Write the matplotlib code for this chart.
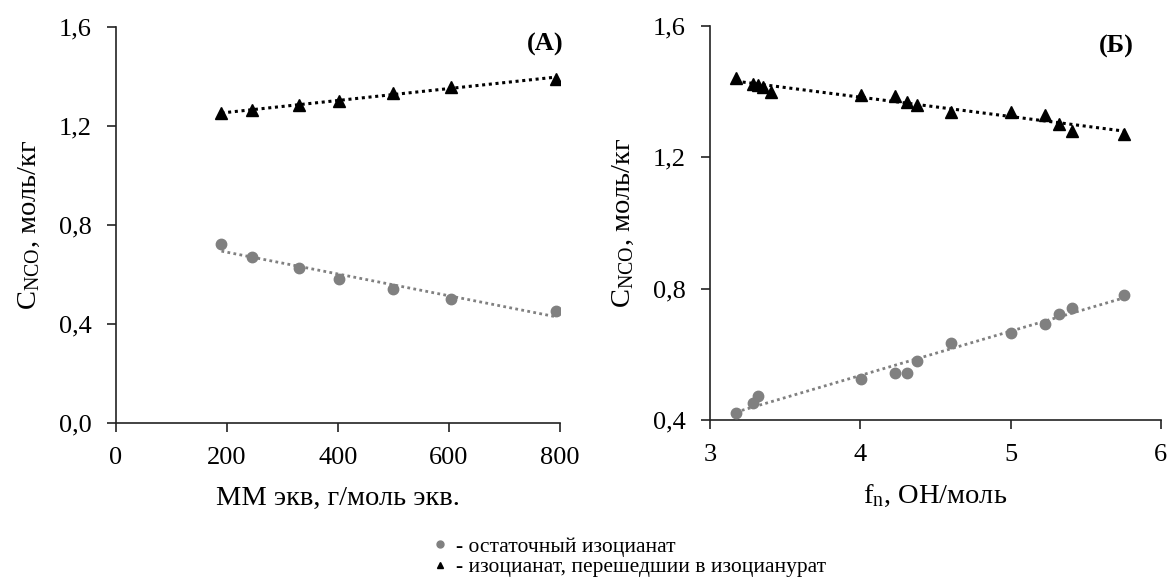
import numpy as np
import matplotlib.pyplot as plt
from matplotlib.lines import Line2D
from matplotlib.ticker import FuncFormatter

plt.rcParams['font.family'] = ['Liberation Serif', 'DejaVu Serif']
plt.rcParams['mathtext.fontset'] = 'custom'
plt.rcParams['mathtext.rm'] = 'Liberation Serif'
plt.rcParams['mathtext.it'] = 'Liberation Serif:italic'

# (А) зависимость от ММ экв
mm_eq = [190, 245, 330, 402, 500, 603, 793]
mm_residual = [0.723, 0.672, 0.625, 0.581, 0.542, 0.503, 0.453]
mm_trimer = [1.253, 1.264, 1.284, 1.301, 1.334, 1.358, 1.392]

# (Б) зависимость от функциональности
fn_tri = [3.173, 3.288, 3.318, 3.351, 3.406, 4.007, 4.233, 4.313, 4.380,
          4.602, 5.003, 5.230, 5.321, 5.410, 5.755]
fn_trimer = [1.441, 1.424, 1.421, 1.415, 1.398, 1.390, 1.387, 1.370, 1.360,
             1.339, 1.339, 1.329, 1.301, 1.281, 1.271]
fn_res = [3.173, 3.288, 3.318, 4.007, 4.233, 4.313, 4.380, 4.602, 5.003,
          5.230, 5.321, 5.410, 5.755]
fn_residual = [0.421, 0.453, 0.474, 0.524, 0.542, 0.542, 0.581, 0.634, 0.665,
               0.693, 0.723, 0.742, 0.782]

gray = '#808080'
fs_tick = 19
fs_label = 20.5


def comma(v, pos):
    return f'{v:.1f}'.replace('.', ',')


def trend(ax, x, y, color, lw):
    k, b = np.polyfit(x, y, 1)
    xs = np.array([min(x), max(x)])
    ax.plot(xs, k * xs + b, color=color, lw=lw, linestyle=(0, (1, 1.2)), zorder=2)


def style(ax):
    for s in ['top', 'right']:
        ax.spines[s].set_visible(False)
    for s in ['left', 'bottom']:
        ax.spines[s].set_linewidth(1.2)
        ax.spines[s].set_color('#222222')
    ax.tick_params(direction='out', length=6.5, width=1.2, pad=11,
                   labelsize=fs_tick, color='#222222')
    ax.yaxis.set_major_formatter(FuncFormatter(comma))


fig = plt.figure(figsize=(11.71, 5.84), dpi=100)
ax1 = fig.add_axes([0.0991, 0.2757, 0.379, 0.678])
ax2 = fig.add_axes([0.6063, 0.2808, 0.385, 0.6747])

trend(ax1, mm_eq, mm_trimer, 'black', 2.2)
trend(ax1, mm_eq, mm_residual, gray, 2.0)
ax1.plot(mm_eq, mm_trimer, '^', color='black', ms=8.5, zorder=3)
ax1.plot(mm_eq, mm_residual, 'o', color=gray, ms=7.5, zorder=3)
ax1.set_xlim(0, 800)
ax1.set_ylim(0, 1.6)
ax1.set_xticks([0, 200, 400, 600, 800])
ax1.set_yticks([0, 0.4, 0.8, 1.2, 1.6])
style(ax1)
ax1.set_xlabel('ММ экв, г/моль экв.', fontsize=fs_label, labelpad=12)
ax1.set_ylabel(r'C$_{\mathrm{NCO}}$, моль/кг', fontsize=fs_label, labelpad=12)
ax1.text(0.966, 0.955, '(А)', transform=ax1.transAxes, fontsize=19,
         fontweight='bold', ha='center', va='center')

trend(ax2, fn_tri, fn_trimer, 'black', 2.2)
trend(ax2, fn_res, fn_residual, gray, 2.0)
ax2.plot(fn_tri, fn_trimer, '^', color='black', ms=8.5, zorder=3)
ax2.plot(fn_res, fn_residual, 'o', color=gray, ms=7.5, zorder=3)
ax2.set_xlim(3, 6)
ax2.set_ylim(0.4, 1.6)
ax2.set_xticks([3, 4, 5, 6])
ax2.set_yticks([0.4, 0.8, 1.2, 1.6])
style(ax2)
ax2.set_xlabel(r'f$_{\mathrm{n}}$, ОН/моль', fontsize=fs_label, labelpad=12)
ax2.set_ylabel(r'C$_{\mathrm{NCO}}$, моль/кг', fontsize=fs_label, labelpad=12)
ax2.text(0.902, 0.949, '(Б)', transform=ax2.transAxes, fontsize=19,
         fontweight='bold', ha='center', va='center')

handles = [Line2D([], [], marker='o', color=gray, ls='none', ms=5),
           Line2D([], [], marker='^', color='black', ls='none', ms=5)]
labels = ['- остаточный изоцианат', '- изоцианат, перешедшии в изоцианурат']
fig.legend(handles, labels, loc='upper left', bbox_to_anchor=(0.362, 0.099),
           frameon=False, fontsize=15.5, handlelength=0.5, handletextpad=0.5,
           labelspacing=0.0, borderpad=0.0)

fig.savefig('out.png', dpi=100)
